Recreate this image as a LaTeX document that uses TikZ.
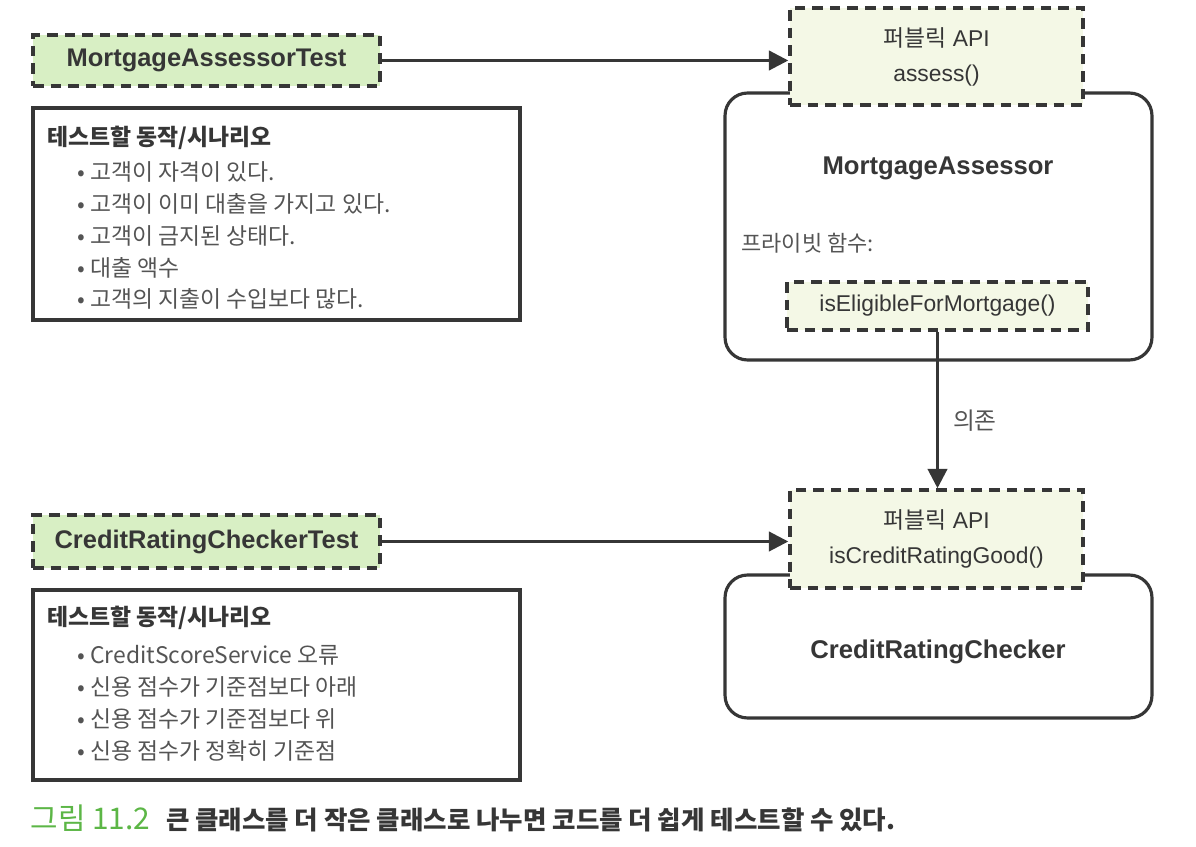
\documentclass[tikz,border=0pt]{standalone}
\usepackage{fontspec}
\setmainfont{Liberation Sans}
\newfontfamily\kr{Noto Sans CJK KR}
\usetikzlibrary{arrows.meta,positioning}

\definecolor{inkgray}{HTML}{363636}
\definecolor{testgreen}{HTML}{D8EFC4}
\definecolor{apifill}{HTML}{F4F8E6}
\definecolor{capgreen}{HTML}{5CB646}

\begin{document}
\begin{tikzpicture}[
    x = 0.02cm, y = -0.02cm, % pixel grid of the reference
    > = {Triangle[length=11pt,width=11pt]}, % arrow head style
    semithick
    ]

    \tikzset{
    dashbox/.style = {draw = inkgray, line width = 2pt, dash pattern = on 6pt off 4pt, inner sep = 0pt},
    testbox/.style = {dashbox, fill = testgreen, text = inkgray, font = \fontsize{14.5}{17}\selectfont\bfseries},
    apibox/.style = {dashbox, fill = apifill, text = inkgray, align = center, font = \fontsize{13}{20}\selectfont},
    classbox/.style = {draw = inkgray, line width = 1.8pt, rounded corners = 0.45cm, fill = white},
    scenbox/.style = {draw = inkgray, line width = 1.8pt, inner sep = 0pt},
    scentitle/.style = {anchor = base west, inner sep = 0pt, text = inkgray, font = \kr\fontsize{13}{15}\selectfont\bfseries},
    scenitem/.style = {anchor = base west, inner sep = 0pt, text = inkgray!85, font = \kr\fontsize{13}{15}\selectfont},
    classname/.style = {text = inkgray, font = \fontsize{14.6}{17}\selectfont\bfseries},
    link/.style = {->, draw = inkgray, line width = 1.7pt}
    }

    \useasboundingbox (0,0) rectangle (1196,847);

    % class boxes
    \node[classbox, minimum width = 8.54cm, minimum height = 5.34cm] (ma) at (938.5,226.5) {};
    \node[classbox, minimum width = 8.54cm, minimum height = 2.86cm] (crc) at (938.5,646.5) {};

    % public APIs
    \node[apibox, minimum width = 5.86cm, minimum height = 1.94cm] (api1) at (936.5,56.5) {{\kr 퍼블릭} API\\assess()};
    \node[apibox, minimum width = 5.86cm, minimum height = 1.96cm] (api2) at (936.5,539) {{\kr 퍼블릭} API\\isCreditRatingGood()};

    \node[classname] (maname) at (938,168) {MortgageAssessor};
    \node[classname] (crcname) at (938,652) {CreditRatingChecker};
    \node[scenitem, font = \kr\fontsize{12.5}{15}\selectfont] (priv) at (741,252) {프라이빗 함수:};
    \node[apibox, minimum width = 6.02cm, minimum height = 0.96cm] (elig) at (937.5,306) {isEligibleForMortgage()};

    % tests
    \node[testbox, minimum width = 6.94cm, minimum height = 1.02cm] (mat) at (206.5,60.5) {MortgageAssessorTest};
    \node[testbox, minimum width = 6.94cm, minimum height = 1.06cm] (crct) at (206.5,541.5) {CreditRatingCheckerTest};

    % scenarios
    \node[scenbox, minimum width = 9.74cm, minimum height = 4.24cm] (scen1) at (276.5,214) {};
    \node[scentitle] (scen1title) at (47,146) {테스트할 동작/시나리오};
    \foreach \txt [count = \i] in {고객이 자격이 있다., 고객이 이미 대출을 가지고 있다., 고객이 금지된 상태다., 대출 액수, 고객의 지출이 수입보다 많다.}
        \node[scenitem] (scen1item\i) at (77,{149+31.8*\i}) {• \txt};

    \node[scenbox, minimum width = 9.74cm, minimum height = 3.8cm] (scen2) at (276.5,685) {};
    \node[scentitle] (scen2title) at (47,625) {테스트할 동작/시나리오};
    \foreach \txt [count = \i] in {CreditScoreService 오류, 신용 점수가 기준점보다 아래, 신용 점수가 기준점보다 위, 신용 점수가 정확히 기준점}
        \node[scenitem] (scen2item\i) at (77,{631+32*\i}) {• \txt};

    % connectors
    \draw[link] (mat.east) -- (mat.east -| api1.west);
    \draw[link] (crct.east) -- (crct.east -| api2.west);
    \draw[link] (elig.south) -- node[pos = 0.57, right = 8pt, inner sep = 0pt, text = inkgray!85, font = \kr\fontsize{13.5}{15}\selectfont] (dep) {의존} (elig.south |- api2.north);

    % caption
    \node[anchor = base west, inner sep = 0pt, text = inkgray] (caption) at (30,829)
        {{\kr\fontsize{17}{19}\selectfont\color{capgreen}그림 11.2}\hspace{9pt}{\kr\fontsize{14.5}{17}\selectfont\bfseries 큰 클래스를 더 작은 클래스로 나누면 코드를 더 쉽게 테스트할 수 있다.}};
\end{tikzpicture}
\end{document}
